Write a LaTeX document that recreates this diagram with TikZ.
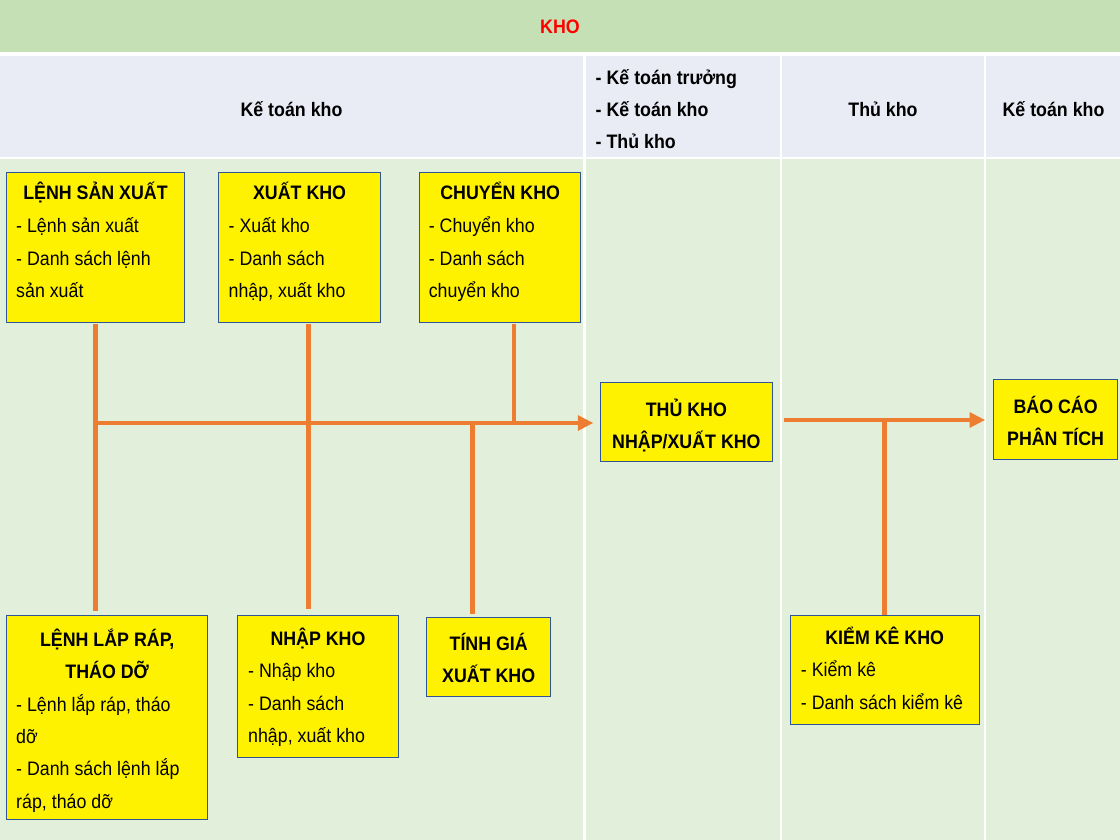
\documentclass[tikz,border=0pt]{standalone}
\usepackage{fontspec}
\setmainfont{Liberation Sans}[FakeStretch=0.913]
\usetikzlibrary{arrows.meta,calc}
\definecolor{band}{HTML}{C5E0B4}
\definecolor{head}{HTML}{E9EBF5}
\definecolor{bodyc}{HTML}{E2EFDA}
\definecolor{orng}{HTML}{ED7D31}
\definecolor{bord}{HTML}{2F5597}
\definecolor{kred}{HTML}{FF0000}
\newcommand\fsz{\fontsize{19.5}{32.4}\selectfont}
\newcommand\st{\rule{0pt}{24pt}}
\begin{document}
\begin{tikzpicture}[x=1pt,y=-1pt,
 ybox/.style={draw=bord,fill=yellow,line width=1pt,inner sep=0pt},
 ttl/.style={font=\fsz\bfseries,inner sep=0pt,anchor=base},
 ttltwo/.style={font=\fsz\bfseries,inner sep=0pt,anchor=north,align=center},
 lst/.style={font=\fsz,inner sep=0pt,anchor=north west,align=left},
 hdr/.style={font=\fsz\bfseries,inner sep=0pt,anchor=base},
 link/.style={draw=orng,line width=4.5pt},
 tip/.style={-{Triangle[length=15.5pt,width=14.7pt]}}
]
\useasboundingbox (0,0) rectangle (1120,840);
\fill[white] (0,0) rectangle (1120,840);
\fill[band] (0,0) rectangle (1120,52);
\fill[head] (0,56) rectangle (1120,157.5);
\fill[bodyc] (0,159) rectangle (1120,840);
\foreach \x in {584.4,780.7,985} \fill[white] (\x-1.2,56) rectangle (\x+1.2,840);

% header texts
\node[hdr,text=kred] (kho) at (560,34) {KHO};
\node[hdr] (hA) at (291.5,116.5) {Kế toán kho};
\node[lst,font=\fsz\bfseries] (hB) at (595.5,60) {\st- Kế toán trưởng\\- Kế toán kho\\- Thủ kho};
\node[hdr] (hC) at (883,116.5) {Thủ kho};
\node[hdr] (hD) at (1053.5,116.5) {Kế toán kho};

% top boxes
\node[ybox,minimum width=178pt,minimum height=150pt] (lsx) at (95.5,247.3) {};
\node[ttl] (lsx-t) at (95.5,200) {LỆNH SẢN XUẤT};
\node[lst] (lsx-b) at (16,208.6) {\st- Lệnh sản xuất\\- Danh sách lệnh\\sản xuất};

\node[ybox,minimum width=162.3pt,minimum height=150pt] (xk) at (299.6,247.3) {};
\node[ttl] (xk-t) at (299.6,200) {XUẤT KHO};
\node[lst] (xk-b) at (228.5,208.6) {\st- Xuất kho\\- Danh sách\\nhập, xuất kho};

\node[ybox,minimum width=160.8pt,minimum height=150pt] (ck) at (500.2,247.3) {};
\node[ttl] (ck-t) at (500.2,200) {CHUYỂN KHO};
\node[lst] (ck-b) at (428.6,208.6) {\st- Chuyển kho\\- Danh sách\\chuyển kho};

% bottom boxes
\node[ybox,minimum width=201.3pt,minimum height=204.3pt] (llr) at (107.2,717.2) {};
\node[ttltwo] (llr-t) at (107.2,622) {\st LỆNH LẮP RÁP,\\THÁO DỠ};
\node[lst] (llr-b) at (16,686.8) {\st- Lệnh lắp ráp, tháo\\dỡ\\- Danh sách lệnh lắp\\ráp, tháo dỡ};

\node[ybox,minimum width=161.5pt,minimum height=142.3pt] (nk) at (318,686.2) {};
\node[ttl] (nk-t) at (318,645) {NHẬP KHO};
\node[lst] (nk-b) at (248,653.4) {\st- Nhập kho\\- Danh sách\\nhập, xuất kho};

\node[ybox,minimum width=124pt,minimum height=79.4pt] (tg) at (488.7,657) {};
\node[ttltwo] (tg-t) at (488.7,626) {\st TÍNH GIÁ\\XUẤT KHO};

% right boxes
\node[ybox,minimum width=171.3pt,minimum height=78.3pt] (tk) at (686.4,421.9) {};
\node[ttltwo] (tk-t) at (686.4,392) {\st THỦ KHO\\NHẬP/XUẤT KHO};

\node[ybox,minimum width=124.7pt,minimum height=80pt] (bc) at (1055.6,419.3) {};
\node[ttltwo] (bc-t) at (1055.6,389.3) {\st BÁO CÁO\\PHÂN TÍCH};

\node[ybox,minimum width=189.3pt,minimum height=109pt] (kk) at (884.7,669.5) {};
\node[ttl] (kk-t) at (884.7,644.3) {KIỂM KÊ KHO};
\node[lst] (kk-b) at (800.7,652.7) {\st- Kiểm kê\\- Danh sách kiểm kê};

% connectors
\coordinate (ja) at (95.5,423);
\coordinate (xk-o) at ($(xk.south)+(8.9,0)$);
\coordinate (ck-o) at ($(ck.south)+(13.6,0)$);
\coordinate (tg-o) at ($(tg.north)+(-16.2,0)$);
\coordinate (jb) at ($(tk.east)+(11,-1.9)$);

\draw[link,shorten <=1.5pt,shorten >=3.5pt] (lsx.south) -- (lsx.south |- llr.north);
\draw[link,shorten <=1.5pt,shorten >=6pt] (xk-o) -- (xk-o |- nk.north);
\draw[link,shorten <=1.5pt] (ck-o) -- (ck-o |- ja);
\draw[link,shorten >=3.3pt] (ja -| tg-o) -- (tg-o);
\draw[link,tip,shorten >=6.9pt] (ja) -- (ja -| tk.west);
\draw[link,tip,shorten >=7.6pt] (jb) -- (jb -| bc.west);
\draw[link] (jb -| kk.north) -- (kk.north);
\end{tikzpicture}
\end{document}
